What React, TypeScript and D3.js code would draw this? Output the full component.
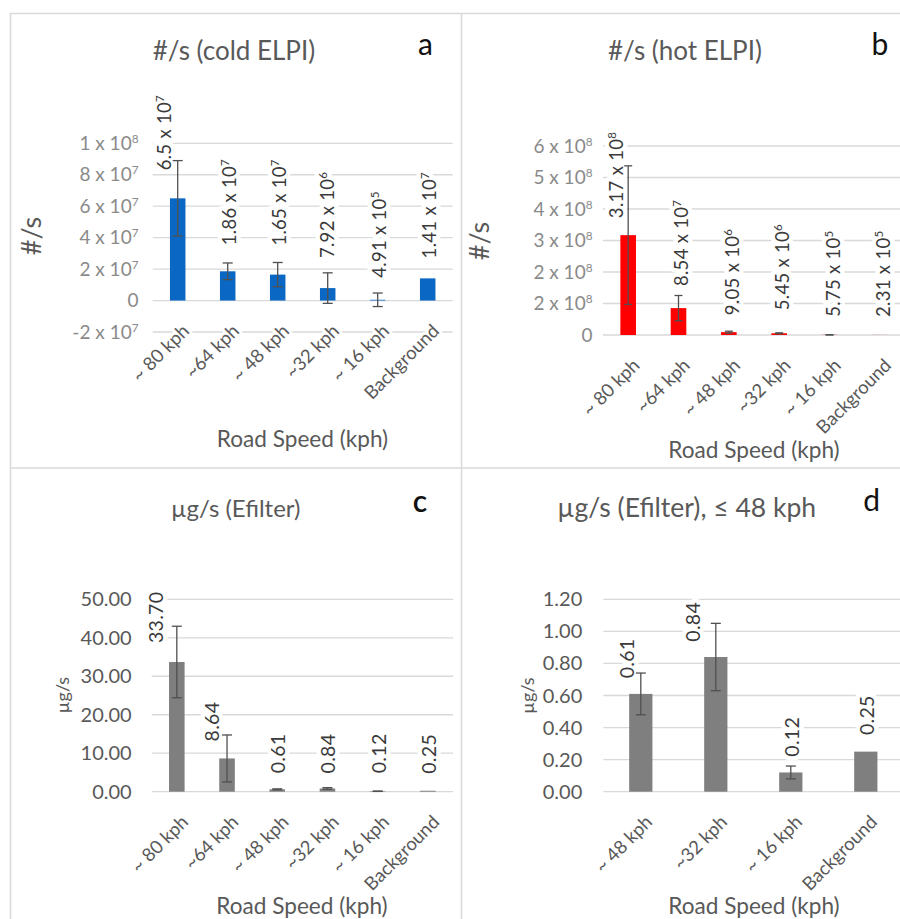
import React from "react";
import * as d3 from "d3";

// ---- data ----
const speedsAll = ["~ 80 kph", "~64 kph", "~ 48 kph", "~32 kph", "~ 16 kph", "Background"];
const speedsLow = ["~ 48 kph", "~32 kph", "~ 16 kph", "Background"];

const coldElpi = [6.5e7, 1.86e7, 1.65e7, 7.92e6, 4.91e5, 1.41e7];
const coldElpiErr = [2.4e7, 5.3e6, 7.7e6, 9.7e6, 4.3e6, 0];

const hotElpi = [3.17e8, 8.54e7, 9.05e6, 5.45e6, 5.75e5, 2.31e5];
const hotElpiErr = [2.2e8, 4.0e7, 3.0e6, 1.5e6, 3.0e5, 0];

const efilter = [33.7, 8.64, 0.61, 0.84, 0.12, 0.25];
const efilterErr = [9.3, 6.1, 0.13, 0.21, 0.04, 0];

const efilterLow = [0.61, 0.84, 0.12, 0.25];
const efilterLowErr = [0.13, 0.21, 0.04, 0];

const coldTicks = [-2e7, 0, 2e7, 4e7, 6e7, 8e7, 1e8];
const coldTickLabels = ["-2 x 10^7", "0", "2 x 10^7", "4 x 10^7", "6 x 10^7", "8 x 10^7", "1 x 10^8"];
const hotTicks = [0, 1e8, 2e8, 3e8, 4e8, 5e8, 6e8];
const hotTickLabels = ["0", "2 x 10^8", "2 x 10^8", "3 x 10^8", "4 x 10^8", "5 x 10^8", "6 x 10^8"];
const efilterTicks = [0, 10, 20, 30, 40, 50];
const efilterLowTicks = [0, 0.2, 0.4, 0.6, 0.8, 1.0, 1.2];

// ---- formatting ----
const fixed2 = d3.format(".2f");
function sci(v: number): string {
  const e = Math.floor(Math.log10(v));
  const m = +(v / Math.pow(10, e)).toFixed(2);
  return `${m} x 10^${e}`;
}

const FONT = "Lato, 'Open Sans', sans-serif";

function SupText({ text, supSize }: { text: string; supSize: number }) {
  const [base, exp] = text.split("^");
  return (
    <>
      <tspan>{base}</tspan>
      {exp !== undefined && (
        <tspan fontSize={supSize} dy={-supSize * 0.6}>
          {exp}
        </tspan>
      )}
    </>
  );
}

type PanelProps = {
  categories: string[];
  values: number[];
  errors: number[];
  labels: string[];
  color: string;
  xRange: [number, number];
  yDomain: [number, number];
  yRange: [number, number];
  ticks: number[];
  tickLabels: string[];
  tickRight: number;
  tickSize: number;
  tickColor: string;
  labelSize: number;
  labelDx: number[];
  labelLift: number[];
  capHalf: number;
  title: string;
  titleSize: number;
  titleX: number;
  titleY: number;
  letter: string;
  letterX: number;
  letterY: number;
  letterWeight?: number;
  yTitle: string;
  yTitleX: number;
  yTitleY: number;
  yTitleSize: number;
  xTitleX: number;
  xTitleY: number;
};

function Panel(p: PanelProps) {
  const x = d3.scaleBand<string>().domain(p.categories).range(p.xRange).paddingInner(0.69).paddingOuter(0.345);
  const band = (p.xRange[1] - p.xRange[0]) / p.categories.length;
  const barW = band * 0.31;
  const y = d3.scaleLinear().domain(p.yDomain).range(p.yRange);
  const cx = (c: string) => (x(c) as number) + x.bandwidth() / 2;
  const y0 = y(0);
  const supLabel = p.labelSize * 0.62;

  const dataLabel = (i: number, halo: boolean) => {
    const c = p.categories[i];
    const tx = cx(c) + p.labelDx[i];
    const ty = y(p.values[i]) - p.labelLift[i];
    return (
      <text
        key={`dl${i}${halo ? "h" : ""}`}
        transform={`translate(${tx},${ty}) rotate(-90)`}
        dy="0.35em"
        fontSize={p.labelSize}
        fill={halo ? "none" : "#3a3a3a"}
        stroke={halo ? "#ffffff" : "none"}
        strokeWidth={halo ? 9 : 0}
        strokeLinejoin="round"
        textAnchor="start"
        letterSpacing={0.3}
      >
        <SupText text={p.labels[i]} supSize={supLabel} />
      </text>
    );
  };

  const catLabel = (c: string, halo: boolean) => (
    <text
      key={`cl${c}${halo ? "h" : ""}`}
      transform={`translate(${cx(c) + 8},${y0 + 27}) rotate(-45)`}
      dy="0.35em"
      textAnchor="end"
      fontSize={18.5}
      fill={halo ? "none" : "#595959"}
      stroke={halo ? "#ffffff" : "none"}
      strokeWidth={halo ? 6 : 0}
      strokeLinejoin="round"
    >
      {c}
    </text>
  );

  return (
    <g fontFamily={FONT}>
      {/* gridlines */}
      {p.ticks.map((t) => (
        <line key={`g${t}`} x1={p.xRange[0]} x2={p.xRange[1]} y1={y(t)} y2={y(t)} stroke="#d9d9d9" strokeWidth={1.3} />
      ))}
      {/* label halos that break the gridlines */}
      {p.categories.map((_, i) => dataLabel(i, true))}
      {p.categories.map((c) => catLabel(c, true))}
      {/* bars */}
      {p.categories.map((c, i) => (
        <rect
          key={`b${c}`}
          x={cx(c) - barW / 2}
          width={barW}
          y={Math.min(y(p.values[i]), y0)}
          height={Math.abs(y0 - y(p.values[i]))}
          fill={p.color}
        />
      ))}
      {/* error bars */}
      {p.categories.map((c, i) => {
        const e = p.errors[i];
        if (!e) return null;
        const top = y(p.values[i] + e);
        const bot = y(p.values[i] - e);
        const xc = cx(c);
        return (
          <g key={`e${c}`} stroke="#505050" strokeWidth={1.3}>
            <line x1={xc} x2={xc} y1={top} y2={bot} />
            <line x1={xc - p.capHalf} x2={xc + p.capHalf} y1={top} y2={top} />
            <line x1={xc - p.capHalf} x2={xc + p.capHalf} y1={bot} y2={bot} />
          </g>
        );
      })}
      {/* y tick labels */}
      {p.ticks.map((t, i) => (
        <text
          key={`t${t}`}
          x={p.tickRight}
          y={y(t)}
          dy="0.35em"
          textAnchor="end"
          fontSize={p.tickSize}
          fill={p.tickColor}
        >
          <SupText text={p.tickLabels[i]} supSize={p.tickSize * 0.62} />
        </text>
      ))}
      {/* data labels */}
      {p.categories.map((_, i) => dataLabel(i, false))}
      {/* category labels */}
      {p.categories.map((c) => catLabel(c, false))}
      {/* titles */}
      <text x={p.titleX} y={p.titleY} textAnchor="middle" fontSize={p.titleSize} fill="#595959">
        {p.title}
      </text>
      <text x={p.letterX} y={p.letterY} textAnchor="middle" fontSize={30} fontWeight={p.letterWeight ?? 400} fill="#111">
        {p.letter}
      </text>
      <text
        transform={`translate(${p.yTitleX},${p.yTitleY}) rotate(-90)`}
        dy="0.35em"
        textAnchor="middle"
        fontSize={p.yTitleSize}
        fill="#595959"
      >
        {p.yTitle}
      </text>
      <text x={p.xTitleX} y={p.xTitleY} textAnchor="middle" fontSize={22.6} fill="#595959">
        Road Speed (kph)
      </text>
    </g>
  );
}

export default function App() {
  const efilterTickLabels = efilterTicks.map(fixed2);
  const efilterLowTickLabels = efilterLowTicks.map(fixed2);
  return (
    <svg
      width={900}
      height={919}
      viewBox="0 0 900 919"
      style={{ position: "absolute", left: 0, top: 0, background: "#fff" }}
    >
      <rect width={900} height={919} fill="#fff" />
      {/* panel frames */}
      <g stroke="#d9d9d9" strokeWidth={1.5}>
        <line x1={10} x2={900} y1={13.5} y2={13.5} />
        <line x1={10.5} x2={10.5} y1={13} y2={919} />
        <line x1={461.5} x2={461.5} y1={13} y2={919} />
        <line x1={10} x2={900} y1={468} y2={468} />
      </g>

      <Panel
        categories={speedsAll}
        values={coldElpi}
        errors={coldElpiErr}
        labels={coldElpi.map(sci)}
        color="#0b67c4"
        xRange={[152.7, 452.7]}
        yDomain={[-2e7, 1e8]}
        yRange={[332, 143.3]}
        ticks={coldTicks}
        tickLabels={coldTickLabels}
        tickRight={138.5}
        tickSize={19}
        tickColor="#8a8a8a"
        labelSize={18.5}
        labelDx={[-13, 2, 2, 0, 2, 2]}
        labelLift={[28, 26, 29, 30, 22, 20]}
        capHalf={5}
        title="#/s (cold ELPI)"
        titleSize={26}
        titleX={234}
        titleY={60}
        letter="a"
        letterX={425.5}
        letterY={55}
        yTitle="#/s"
        yTitleX={31.7}
        yTitleY={236}
        yTitleSize={27}
        xTitleX={302.5}
        xTitleY={446.7}
      />

      <Panel
        categories={speedsAll}
        values={hotElpi}
        errors={hotElpiErr}
        labels={hotElpi.map(sci)}
        color="#ff0000"
        xRange={[603, 905]}
        yDomain={[0, 6e8]}
        yRange={[335, 146]}
        ticks={hotTicks}
        tickLabels={hotTickLabels}
        tickRight={592.5}
        tickSize={19}
        tickColor="#8a8a8a"
        labelSize={18.5}
        labelDx={[-12, 3, 4, 3, 4, 4]}
        labelLift={[17, 22, 17, 23, 18, 18]}
        capHalf={4}
        title="#/s (hot ELPI)"
        titleSize={26}
        titleX={685}
        titleY={60}
        letter="b"
        letterX={880}
        letterY={55}
        yTitle="#/s"
        yTitleX={480}
        yTitleY={241}
        yTitleSize={27}
        xTitleX={754}
        xTitleY={458}
      />

      <Panel
        categories={speedsAll}
        values={efilter}
        errors={efilterErr}
        labels={efilter.map(fixed2)}
        color="#7f7f7f"
        xRange={[151.7, 453]}
        yDomain={[0, 50]}
        yRange={[791.7, 599.3]}
        ticks={efilterTicks}
        tickLabels={efilterTickLabels}
        tickRight={131.7}
        tickSize={20}
        tickColor="#595959"
        labelSize={19.5}
        labelDx={[-21, -15, 1, 1, 1, 1]}
        labelLift={[19, 17, 16, 15, 18, 17]}
        capHalf={5}
        title="µg/s (Efilter)"
        titleSize={24}
        titleX={235.7}
        titleY={516.7}
        letter="c"
        letterX={420}
        letterY={511.7}
        letterWeight={600}
        yTitle="µg/s"
        yTitleX={62.5}
        yTitleY={695}
        yTitleSize={18}
        xTitleX={302}
        xTitleY={914}
      />

      <Panel
        categories={speedsLow}
        values={efilterLow}
        errors={efilterLowErr}
        labels={efilterLow.map(fixed2)}
        color="#7f7f7f"
        xRange={[603.3, 903.3]}
        yDomain={[0, 1.2]}
        yRange={[791.7, 599.3]}
        ticks={efilterLowTicks}
        tickLabels={efilterLowTickLabels}
        tickRight={582.3}
        tickSize={20}
        tickColor="#595959"
        labelSize={19.5}
        labelDx={[-13.4, -22.7, 1.6, 1.7]}
        labelLift={[15.6, 15.3, 15.8, 16.6]}
        capHalf={5}
        title="µg/s (Efilter), ≤ 48 kph"
        titleSize={26.5}
        titleX={686.7}
        titleY={516.7}
        letter="d"
        letterX={871.7}
        letterY={510.7}
        yTitle="µg/s"
        yTitleX={527.5}
        yTitleY={695.5}
        yTitleSize={18}
        xTitleX={754}
        xTitleY={914}
      />
    </svg>
  );
}
